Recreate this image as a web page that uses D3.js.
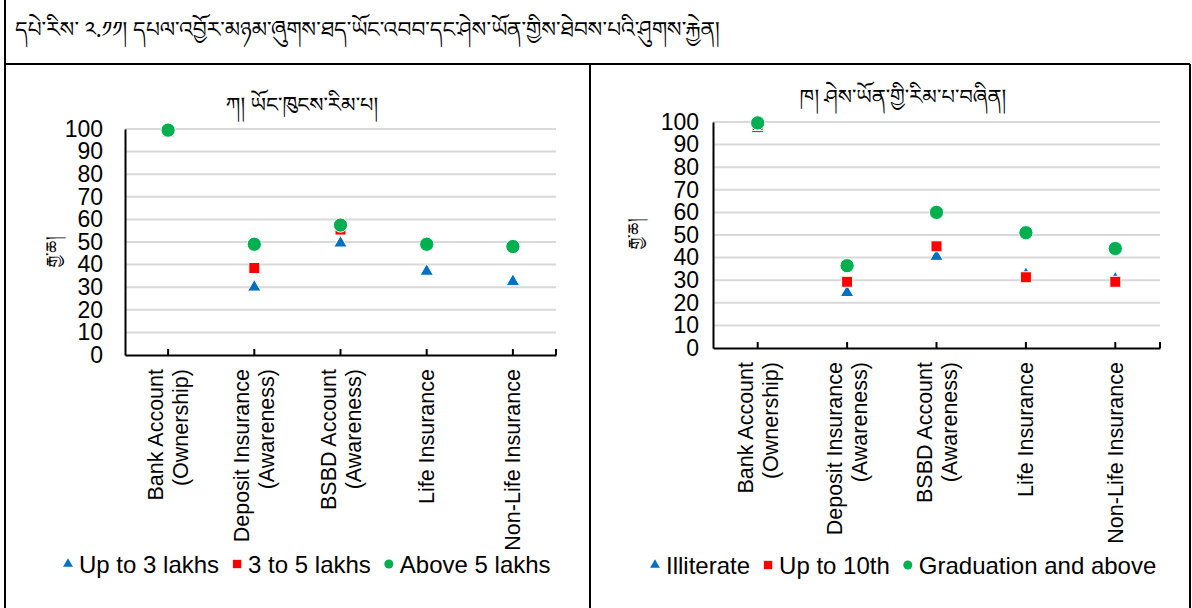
<!DOCTYPE html>
<html><head><meta charset="utf-8">
<script src="https://cdn.jsdelivr.net/npm/d3@7"></script>
<style>
body{margin:0;background:#fff;}
svg{display:block;font-family:"Liberation Sans",Arial,sans-serif;}
</style></head>
<body><svg id="c" width="1192" height="608"></svg>
<script>
const figureTitle = "དཔེ་རིས་ ༢.༡༡། དཔལ་འབྱོར་མཉམ་ཞུགས་ཐད་ཡོང་འབབ་དང་ཤེས་ཡོན་གྱིས་ཐེབས་པའི་ཤུགས་རྐྱེན།";
const yAxisTitle = "རྒྱ་ཆ།";
const categories = [["Bank Account","(Ownership)"],["Deposit Insurance","(Awareness)"],["BSBD Account","(Awareness)"],["Life Insurance"],["Non-Life Insurance"]];
const yTicks = [0,10,20,30,40,50,60,70,80,90,100];

const leftTitle = "ཀ། ཡོང་ཁུངས་རིམ་པ།";
const leftSeriesNames = ["Up to 3 lakhs","3 to 5 lakhs","Above 5 lakhs"];
const incomeUpTo3 = [98, 30, 49.5, 37, 32.5];
const income3to5 = [99, 38.5, 55.5, null, null];
const incomeAbove5 = [99.5, 49, 57.5, 49, 48];

const rightTitle = "ཁ། ཤེས་ཡོན་གྱི་རིམ་པ་བཞིན།";
const rightSeriesNames = ["Illiterate","Up to 10th","Graduation and above"];
const eduIlliterate = [97, 24.5, 40.5, 32.5, 30.5];
const eduUpTo10 = [98.7, 29.3, 45, 31.3, 29.3];
const eduGraduation = [99.6, 36.4, 60, 51, 44];

const colors = ["#0070C0","#FF0000","#00B050"];
const shapes = [d3.symbolTriangle, d3.symbolSquare, d3.symbolCircle];
const sizes = [78, 121, 160];
const legSizes = [42, 70, 64];

const svg = d3.select("#c");
const tib = "'Noto Sans Tibetan','Noto Serif Tibetan','Jomolhari','Microsoft Himalaya',sans-serif";

// frame
const frame = svg.append("g").attr("stroke","#000").attr("stroke-width",2);
frame.append("line").attr("x1",5).attr("x2",5).attr("y1",0).attr("y2",608);
frame.append("line").attr("x1",5).attr("x2",1190).attr("y1",64).attr("y2",64);
frame.append("line").attr("x1",590).attr("x2",590).attr("y1",64).attr("y2",608);
frame.append("line").attr("x1",1190).attr("x2",1190).attr("y1",64).attr("y2",608);

svg.append("text").attr("x",15).attr("y",37).attr("font-size",21.8)
  .style("font-family",tib).text(figureTitle);

function chart(cfg){
  const g = svg.append("g");
  const x = d3.scaleBand().domain(categories.map((d,i)=>i)).range([cfg.x0,cfg.x1]);
  const y = d3.scaleLinear().domain([0,100]).range([cfg.y0,cfg.y1]);
  // gridlines
  g.append("g").selectAll("line").data(yTicks.filter(t=>t>0)).join("line")
    .attr("x1",cfg.x0).attr("x2",cfg.x1).attr("y1",d=>y(d)).attr("y2",d=>y(d))
    .attr("stroke","#d9d9d9").attr("stroke-width",2);
  // y axis
  const ya = g.append("g").attr("transform",`translate(${cfg.x0},0)`)
    .call(d3.axisLeft(y).tickValues(yTicks).tickSize(0).tickPadding(cfg.labPad));
  ya.select(".domain").attr("stroke","#000").attr("stroke-width",2);
  ya.selectAll("text").attr("font-size",23).attr("fill","#000").style("font-family","'Liberation Sans',Arial,sans-serif");
  // x axis
  const xa = g.append("g").attr("transform",`translate(0,${cfg.y0})`)
    .call(d3.axisBottom(x).tickSize(0).tickFormat(""));
  xa.select(".domain").attr("stroke","#000").attr("stroke-width",2);
  const tickPos = categories.map((d,i)=>x(i)+x.bandwidth()/2).concat([cfg.x1]);
  g.append("g").selectAll("line").data(tickPos).join("line")
    .attr("x1",d=>d).attr("x2",d=>d).attr("y1",cfg.y0).attr("y2",cfg.y0-6)
    .attr("stroke","#000").attr("stroke-width",2);
  // x labels
  categories.forEach((lines,i)=>{
    const cx = x(i)+x.bandwidth()/2;
    const n = lines.length;
    lines.forEach((t,j)=>{
      const lx = cx + (j-(n-1)/2)*25 + 7.5;
      g.append("text").attr("transform",`translate(${lx},${cfg.y0+cfg.xlabPad}) rotate(-90)`)
        .attr("text-anchor","end").attr("font-size",21.5).attr("fill","#000").text(t);
    });
  });
  // y title
  g.append("text").attr("transform",`translate(${cfg.ytX},${cfg.ytY}) rotate(-90)`)
    .attr("text-anchor","middle").attr("font-size",17).style("font-family",tib).text(yAxisTitle);
  // chart title
  g.append("text").attr("x",cfg.tX).attr("y",cfg.tY).attr("text-anchor","middle")
    .attr("font-size",21).style("font-family",tib).text(cfg.title);
  // points
  cfg.series.forEach((vals,s)=>{
    g.append("g").selectAll("path").data(vals.map((v,i)=>({v,i})).filter(d=>d.v!=null)).join("path")
      .attr("d",d3.symbol(shapes[s],sizes[s]))
      .attr("transform",d=>`translate(${x(d.i)+x.bandwidth()/2},${y(d.v)})`)
      .attr("fill",colors[s]).attr("stroke","#fff").attr("stroke-width",1);
  });
  // legend
  const lg = g.append("g").attr("transform",`translate(${cfg.legX},${cfg.legY})`);
  let cx = 0;
  cfg.names.forEach((nm,s)=>{
    lg.append("path").attr("d",d3.symbol(shapes[s],legSizes[s])).attr("transform",`translate(${cx},0)`)
      .attr("fill",colors[s]);
    const t = lg.append("text").attr("x",cx+11).attr("y",8.5).attr("font-size",24).attr("fill","#000").text(nm);
    cx += 11 + t.node().getComputedTextLength() + 18;
  });
}

chart({x0:125,x1:556,y0:355,y1:129,labPad:22,xlabPad:14,ytX:58,ytY:252,tX:302,tY:112,title:leftTitle,
  series:[incomeUpTo3,income3to5,incomeAbove5],names:leftSeriesNames,legX:68,legY:564});
chart({x0:713,x1:1160,y0:348,y1:122,labPad:14,xlabPad:14,ytX:640,ytY:234,tX:903,tY:104,title:rightTitle,
  series:[eduIlliterate,eduUpTo10,eduGraduation],names:rightSeriesNames,legX:655,legY:565});
</script></body></html>
